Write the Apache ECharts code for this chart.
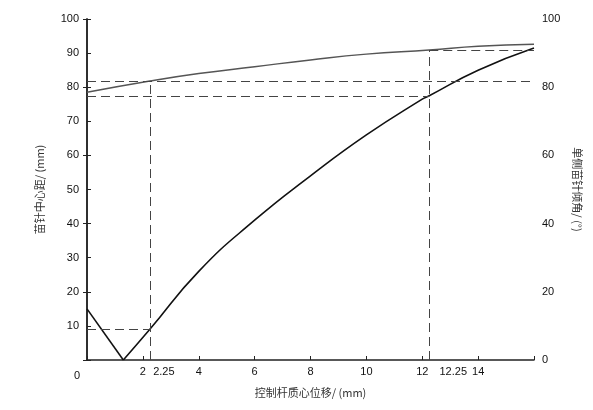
<!DOCTYPE html><html><head><meta charset="utf-8"><script src="https://cdn.jsdelivr.net/npm/echarts@6/dist/echarts.min.js"></script></head><body style="margin:0"><div id="c" style="width:593px;height:410px"></div><script>
const upperX=[0,2.25,4,6,8,10,12.25,14,16];
const upperY=[78.5,81.8,84,86,88,89.7,90.9,92,92.6];
const vX=[0,1.3];
const vY=[15,0];
const lowerX=[1.3,2.25,4,6,8,10,12,12.25,14,16];
const lowerY=[0,9,26,41,54,66,76.5,77.5,85,91.5];
const xTicks=[0,2,4,6,8,10,12,14];
const xExtra=[2.25,12.25];
const dashes=[[[0,81.7],[16,81.7]],[[2.25,0],[2.25,81.7]],[[0,77.4],[12.25,77.4]],[[12.25,0],[12.25,90.9]],[[12.25,90.9],[16,90.9]],[[0,9],[2.25,9]]];
const ch=echarts.init(document.getElementById('c'));
ch.setOption({animation:false,backgroundColor:'#fff',
grid:{left:87,right:59,top:19,bottom:50},
xAxis:[{type:'value',min:0,max:16,name:'控制杆质心位移/ (mm)',nameLocation:'middle',nameGap:27,nameTextStyle:{color:'#333',fontSize:11,fontFamily:'Noto Sans CJK SC'},
 axisLine:{lineStyle:{color:'#222',width:1.5}},splitLine:{show:false},
 axisTick:{inside:true,length:4,customValues:xTicks.concat([16]),lineStyle:{color:'#222'}},
 axisLabel:{customValues:xTicks,color:'#111',fontSize:11,fontFamily:'Arial',margin:6,formatter:v=>v===0?'{z|0}':String(v),rich:{z:{padding:[4,20,0,0],fontSize:11,color:'#111'}}}},
 {type:'value',min:0,max:16,position:'bottom',axisLine:{show:false},axisTick:{show:false},splitLine:{show:false},
 axisLabel:{customValues:xExtra,color:'#111',fontSize:11,fontFamily:'Arial',margin:6,formatter:v=>v<5?'{a|'+v+'}':'{b|'+v+'}',rich:{a:{padding:[0,0,0,28],fontSize:11,color:'#111'},b:{padding:[0,0,0,48],fontSize:11,color:'#111'}}}}],
yAxis:[{type:'value',min:0,max:100,interval:10,name:'苗针中心距/ (mm)',nameLocation:'middle',nameGap:42,nameTextStyle:{color:'#333',fontSize:11,fontFamily:'Noto Sans CJK SC'},
 axisLine:{show:true,lineStyle:{color:'#222',width:1.5}},splitLine:{show:false},axisTick:{inside:true,length:4,lineStyle:{color:'#222'}},
 axisLabel:{color:'#111',fontSize:11,fontFamily:'Arial',formatter:v=>v===0?'':v}},
 {type:'value',min:0,max:100,interval:20,position:'right',name:'单侧苗针倾角/ (°)',nameLocation:'middle',nameGap:31,nameRotate:-90,nameTextStyle:{color:'#333',fontSize:11,fontFamily:'Noto Sans CJK SC'},
 axisLine:{show:true,lineStyle:{color:'#222',width:1.5}},splitLine:{show:false},axisTick:{inside:true,length:4,lineStyle:{color:'#222'}},
 axisLabel:{color:'#111',fontSize:11,fontFamily:'Arial'}}],
series:[{type:'line',data:upperX.map((x,i)=>[x,upperY[i]]),smooth:true,symbol:'none',lineStyle:{color:'#555',width:1.5},
 markLine:{silent:true,symbol:'none',label:{show:false},lineStyle:{type:[9,5],color:'#444',width:1},data:dashes.map(d=>[{coord:d[0]},{coord:d[1]}])}},
 {type:'line',data:vX.map((x,i)=>[x,vY[i]]),symbol:'none',lineStyle:{color:'#111',width:1.6}},
 {type:'line',data:lowerX.map((x,i)=>[x,lowerY[i]]),smooth:true,symbol:'none',lineStyle:{color:'#111',width:1.6}}]
});
</script></body></html>
